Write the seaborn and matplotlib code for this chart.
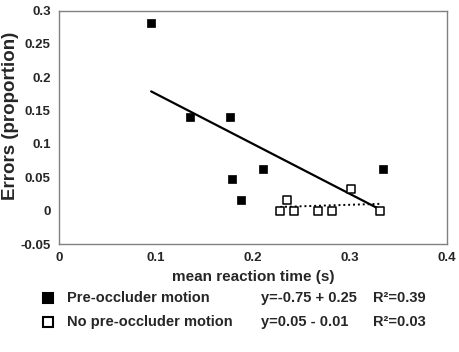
import numpy as np
import pandas as pd
import matplotlib
matplotlib.use("Agg")
import matplotlib.pyplot as plt
import seaborn as sns
from matplotlib.lines import Line2D

sns.set_style("white")
plt.rcParams['font.family'] = ['Liberation Sans', 'DejaVu Sans']
plt.rcParams['font.weight'] = 'bold'

# Data
pre_rt = [0.095, 0.135, 0.176, 0.178, 0.188, 0.210, 0.334]
pre_err = [0.282, 0.141, 0.141, 0.047, 0.0155, 0.0625, 0.0625]
nopre_rt = [0.228, 0.2355, 0.2423, 0.267, 0.281, 0.3015, 0.3306]
nopre_err = [0.0, 0.0155, 0.0, 0.0, 0.0, 0.032, 0.0]

pre_slope, pre_icpt = -0.75, 0.25
nopre_slope, nopre_icpt = 0.045, -0.0047

x_ticks = [0, 0.1, 0.2, 0.3, 0.4]
y_ticks = [-0.05, 0, 0.05, 0.1, 0.15, 0.2, 0.25, 0.3]

fig = plt.figure(figsize=(4.59, 3.52), dpi=100)
ax = fig.add_axes([59/459, 1-244/352, (447-59)/459, (244-10.5)/352])

pre_fit = pd.DataFrame({"x": [min(pre_rt), max(pre_rt)]})
pre_fit["y"] = pre_icpt + pre_slope * pre_fit["x"]
nopre_fit = pd.DataFrame({"x": [min(nopre_rt), max(nopre_rt)]})
nopre_fit["y"] = nopre_icpt + nopre_slope * nopre_fit["x"]

sns.lineplot(data=pre_fit, x="x", y="y", color="black", lw=1.6, ax=ax)
sns.lineplot(data=nopre_fit, x="x", y="y", color="black", lw=1.4, ls=(0, (1, 1.5)), ax=ax)

sns.scatterplot(x=pre_rt, y=pre_err, marker="s", s=30, color="black",
                edgecolor="black", linewidth=0.5, ax=ax, zorder=3)
sns.scatterplot(x=nopre_rt, y=nopre_err, marker="s", s=28, facecolor="white",
                edgecolor="black", linewidth=1.1, ax=ax, zorder=3)

ax.set_xlim(0, 0.4)
ax.set_ylim(-0.05, 0.3)
ax.set_xticks(x_ticks)
ax.set_yticks(y_ticks)
ax.set_xticklabels([f"{v:g}" for v in x_ticks], fontsize=9.5, fontweight='bold')
ax.set_yticklabels([f"{v:g}" for v in y_ticks], fontsize=9.5, fontweight='bold')
ax.tick_params(axis='both', direction='out', length=3, width=0.8, color='#808080', pad=3)
for s in ax.spines.values():
    s.set_color('#808080')
    s.set_linewidth(1.0)
ax.set_xlabel("mean reaction time (s)", fontsize=11, fontweight='bold', labelpad=4)
ax.set_ylabel("Errors (proportion)", fontsize=13.5, fontweight='bold')
ax.yaxis.set_label_coords(-48/388, 0.548)
ax.yaxis.label.set_va('center')

def px(x, y):
    return x/459, 1 - y/352

for yy, fc in [(298, 'black'), (322, 'white')]:
    fx, fy = px(48, yy)
    fig.add_artist(Line2D([fx], [fy], marker='s', markersize=7, markerfacecolor=fc,
                          markeredgecolor='black', markeredgewidth=1.5, transform=fig.transFigure))

rows = [(298, "Pre-occluder motion", "y=-0.75 + 0.25", "R²=0.39"),
        (322, "No pre-occluder motion", "y=0.05 - 0.01", "R²=0.03")]
for yy, name, eq, r2 in rows:
    for xx, t in [(67, name), (261, eq), (373, r2)]:
        fx, fy = px(xx, yy)
        fig.text(fx, fy, t, fontsize=10.5, fontweight='bold', va='center', ha='left')

fig.savefig("out.png", dpi=100)
